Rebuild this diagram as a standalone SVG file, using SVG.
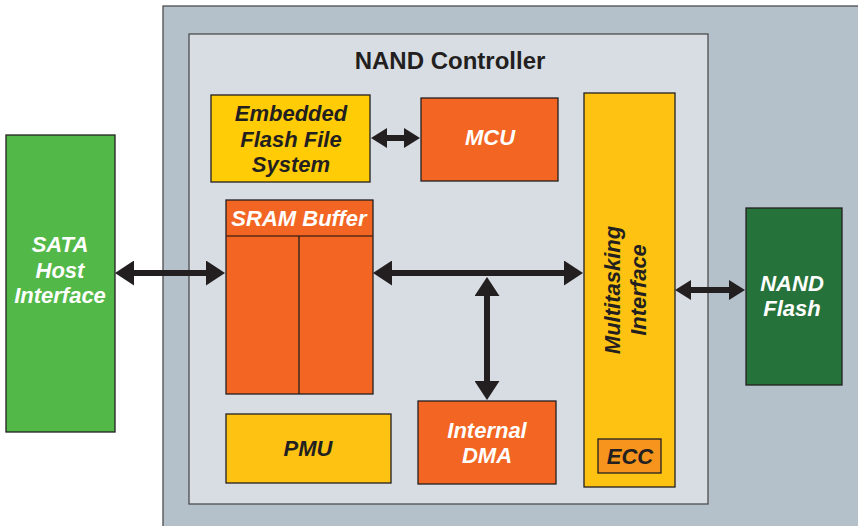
<svg xmlns="http://www.w3.org/2000/svg" width="858" height="526" viewBox="0 0 858 526">
<style>
.box{stroke:#231f20;stroke-width:1.3}
.t{font-family:"Liberation Sans",Arial,sans-serif;font-weight:bold;font-style:italic;font-size:22px;text-anchor:middle}
.w{fill:#ffffff}
.d{fill:#231f20}
.conn{stroke:#231f20;stroke-width:6;fill:none}
</style>
<defs>
<marker id="hL" viewBox="0 0 19 25" refX="0" refY="12.5" markerWidth="19" markerHeight="25" markerUnits="userSpaceOnUse" orient="auto-start-reverse"><path d="M0,0 L19,12.5 L0,25 Z" fill="#231f20"/></marker>
<marker id="hS" viewBox="0 0 16 20" refX="0" refY="10" markerWidth="16" markerHeight="20" markerUnits="userSpaceOnUse" orient="auto-start-reverse"><path d="M0,0 L16,10 L0,20 Z" fill="#231f20"/></marker>
</defs>
<rect width="858" height="526" fill="#ffffff"/>
<g id="system">
<rect x="163" y="6" width="700" height="525" fill="#b4c1ca" stroke="#4d4d4f" stroke-width="1.3"/>
</g>
<g id="nand-controller">
<rect x="189" y="34" width="519" height="470" fill="#d8dde4" stroke="#4d4d4f" stroke-width="1.3"/>
<text x="450" y="69" font-family="'Liberation Sans',Arial,sans-serif" font-weight="bold" font-size="24" text-anchor="middle" fill="#231f20">NAND Controller</text>
</g>
<g id="sata">
<rect class="box" x="6" y="135" width="109" height="297" fill="#52b848"/>
<text class="t w" x="60" y="252">SATA</text>
<text class="t w" x="60" y="278">Host</text>
<text class="t w" x="60" y="303">Interface</text>
</g>
<g id="effs">
<rect class="box" x="211" y="95" width="159" height="87" fill="#ffcc05"/>
<text class="t d" x="291" y="121">Embedded</text>
<text class="t d" x="291" y="147">Flash File</text>
<text class="t d" x="291" y="172">System</text>
</g>
<g id="mcu">
<rect class="box" x="421" y="98" width="137" height="83" fill="#f26522"/>
<text class="t w" x="490" y="145">MCU</text>
</g>
<g id="sram">
<rect class="box" x="226" y="200" width="147" height="194" fill="#f26522"/>
<line x1="226" y1="236" x2="373" y2="236" stroke="#5a2a14" stroke-width="1.3"/>
<line x1="299" y1="236" x2="299" y2="394" stroke="#231f20" stroke-width="1.3"/>
<text class="t w" x="299" y="226">SRAM Buffer</text>
</g>
<g id="pmu">
<rect class="box" x="226" y="414" width="165" height="69" fill="#fec312"/>
<text class="t d" x="308" y="456">PMU</text>
</g>
<g id="dma">
<rect class="box" x="418" y="401" width="138" height="83" fill="#f26522"/>
<text class="t w" x="487" y="438">Internal</text>
<text class="t w" x="487" y="463">DMA</text>
</g>
<g id="multitasking">
<rect class="box" x="584" y="93" width="91" height="394" fill="#fec312"/>
<text class="t d" transform="translate(620,290) rotate(-90)" font-size="23">Multitasking</text>
<text class="t d" transform="translate(646,290) rotate(-90)" font-size="23">Interface</text>
</g>
<g id="ecc">
<rect class="box" x="598" y="439" width="63" height="34" fill="#f7941d"/>
<text class="t d" x="630" y="464">ECC</text>
</g>
<g id="nand-flash">
<rect class="box" x="746" y="208" width="96" height="177" fill="#25733a"/>
<text class="t w" x="792" y="291">NAND</text>
<text class="t w" x="792" y="316">Flash</text>
</g>
<g id="connectors">
<line class="conn" x1="134" y1="273" x2="206" y2="273" marker-start="url(#hL)" marker-end="url(#hL)"/>
<line class="conn" x1="392" y1="273" x2="564" y2="273" marker-start="url(#hL)" marker-end="url(#hL)"/>
<line class="conn" x1="487" y1="296" x2="487" y2="381" marker-start="url(#hL)" marker-end="url(#hL)"/>
<line class="conn" x1="387" y1="138" x2="404" y2="138" marker-start="url(#hS)" marker-end="url(#hS)"/>
<line class="conn" x1="691" y1="290" x2="729" y2="290" marker-start="url(#hS)" marker-end="url(#hS)"/>
</g>
</svg>
